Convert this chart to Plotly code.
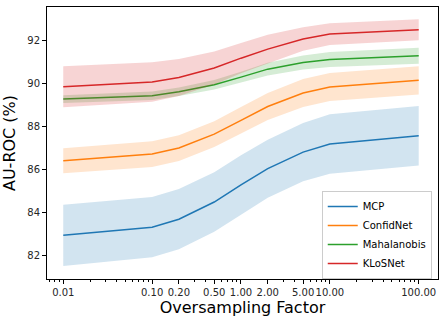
import plotly.graph_objects as go

# Oversampling factors and AU-ROC means / half-widths of the shaded band
factors = [0.01, 0.1, 0.2, 0.5, 1.0, 2.0, 5.0, 10.0, 100.0]
tick_labels = ["0.01", "0.10", "0.20", "0.50", "1.00", "2.00", "5.00", "10.00", "100.00"]

mcp_mean = [82.95, 83.33, 83.70, 84.50, 85.30, 86.05, 86.82, 87.20, 87.58]
mcp_std = [1.42, 1.40, 1.40, 1.38, 1.38, 1.35, 1.35, 1.38, 1.38]

confidnet_mean = [86.42, 86.73, 87.01, 87.66, 88.30, 88.94, 89.57, 89.85, 90.16]
confidnet_std = [0.58, 0.60, 0.60, 0.60, 0.62, 0.63, 0.65, 0.65, 0.66]

mahalanobis_mean = [89.29, 89.44, 89.63, 89.95, 90.31, 90.68, 90.99, 91.13, 91.30]
mahalanobis_std = [0.18, 0.20, 0.20, 0.22, 0.25, 0.30, 0.33, 0.35, 0.37]

klosnet_mean = [89.86, 90.08, 90.29, 90.73, 91.19, 91.61, 92.08, 92.31, 92.51]
klosnet_std = [0.95, 0.92, 0.86, 0.77, 0.70, 0.67, 0.55, 0.51, 0.49]

series = [
    ("MCP", mcp_mean, mcp_std, "#1f77b4", "rgba(31,119,180,0.2)"),
    ("ConfidNet", confidnet_mean, confidnet_std, "#ff7f0e", "rgba(255,127,14,0.2)"),
    ("Mahalanobis", mahalanobis_mean, mahalanobis_std, "#2ca02c", "rgba(44,160,44,0.2)"),
    ("KLoSNet", klosnet_mean, klosnet_std, "#d62728", "rgba(214,39,40,0.2)"),
]

fig = go.Figure()
for name, mean, std, color, fill in series:
    upper = [m + s for m, s in zip(mean, std)]
    lower = [m - s for m, s in zip(mean, std)]
    fig.add_trace(go.Scatter(
        x=factors + factors[::-1],
        y=upper + lower[::-1],
        fill="toself",
        fillcolor=fill,
        line=dict(width=0),
        mode="lines",
        hoverinfo="skip",
        showlegend=False,
    ))
    fig.add_trace(go.Scatter(
        x=factors,
        y=mean,
        mode="lines",
        name=name,
        line=dict(color=color, width=1.5),
    ))

axis_style = dict(
    showline=True, linecolor="black", linewidth=1, mirror=True,
    ticks="outside", ticklen=4, tickcolor="black", showgrid=False, zeroline=False,
    tickfont=dict(size=10, color="#262626"), tickangle=0,
)

fig.update_layout(
    width=443, height=322,
    margin=dict(l=47, r=5, t=7, b=43),
    paper_bgcolor="white", plot_bgcolor="white",
    font=dict(family="DejaVu Sans", color="black"),
    xaxis=dict(
        type="log", range=[-2.183, 2.217],
        tickvals=factors, ticktext=tick_labels,
        title=dict(text="Oversampling Factor", font=dict(size=16), standoff=4),
        minor=dict(ticks="outside", ticklen=2, tickcolor="black", dtick="D1", showgrid=False),
        **axis_style,
    ),
    yaxis=dict(
        range=[80.92, 93.57], tickvals=[82, 84, 86, 88, 90, 92],
        title=dict(text="AU-ROC (%)", font=dict(size=16), standoff=8),
        **axis_style,
    ),
    legend=dict(
        x=0.984, y=0.0, xanchor="right", yanchor="bottom",
        bgcolor="rgba(255,255,255,0.8)", bordercolor="#cccccc", borderwidth=1,
        font=dict(size=10), tracegroupgap=0, itemwidth=30,
    ),
)

fig.write_html("out.html", config={"displayModeBar": False},
               post_script="document.body.style.margin='0';")
